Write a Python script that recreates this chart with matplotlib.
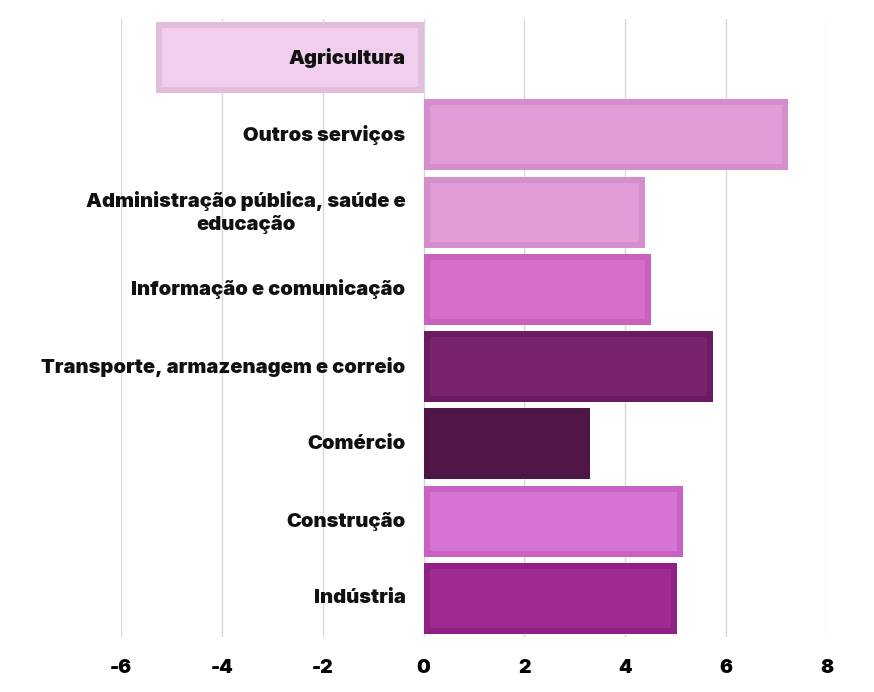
import matplotlib.pyplot as plt
from matplotlib.transforms import Bbox

categories = [
    "Agricultura",
    "Outros serviços",
    "Administração pública, saúde e\neducação",
    "Informação e comunicação",
    "Transporte, armazenagem e correio",
    "Comércio",
    "Construção",
    "Indústria",
]
values = [-5.3, 7.22, 4.4, 4.5, 5.73, 3.31, 5.14, 5.02]
fill_colors = ["#F1CEEE", "#E29DD9", "#E29DD9", "#D56FC9",
               "#7A216F", "#531748", "#D673D3", "#9E2A92"]
edge_colors = ["#E2BEDD", "#D38ECB", "#D38ECB", "#C862BB",
               "#6B1B62", "#4E1645", "#C862C3", "#8F2185"]
xticks = [-6, -4, -2, 0, 2, 4, 6, 8]

plt.rcParams['font.family'] = ['Inter', 'DejaVu Sans']

W, H = 874, 692
fig = plt.figure(figsize=(W / 100, H / 100), dpi=100)
ax = fig.add_axes([121 / W, 1 - 637 / H, (827 - 121) / W, (637 - 19) / H])

ax.set_xlim(-6, 8)
ax.set_ylim(len(categories) - 0.5, -0.5)

ys = list(range(len(categories)))
bar_h = 0.92
# inset of inner face in data units (~6 px)
dx = 6 / (706 / 14)
dy = 6 / (618 / 8)

ax.barh(ys, values, height=bar_h, color=edge_colors, zorder=2)
inner_left = [dx if v > 0 else v + dx for v in values]
inner_w = [abs(v) - 2 * dx for v in values]
ax.barh(ys, inner_w, left=inner_left, height=bar_h - 2 * dy,
        color=fill_colors, zorder=3)

ax.set_xticks(xticks)
ax.set_xticklabels([str(t) for t in xticks])
ax.set_yticks([])
ax.grid(axis='x', color='#D9D9D9', linewidth=1, zorder=0)
for s in ax.spines.values():
    s.set_visible(False)
ax.tick_params(axis='x', length=0, pad=16, labelsize=14)
for lbl in ax.get_xticklabels():
    lbl.set_fontweight('black')

clip = Bbox.from_extents(40, 0, W, H)
for y, name in zip(ys, categories):
    t = ax.annotate(name, xy=(0, y), xytext=(-18, 0), textcoords='offset pixels',
                    ha='right', va='center', fontsize=14.5, fontweight='black',
                    color='#111111', zorder=5, multialignment='center',
                    linespacing=1.25, annotation_clip=False)
    t.set_clip_box(clip)
    t.set_clip_on(True)

fig.savefig("out.png", dpi=100)
